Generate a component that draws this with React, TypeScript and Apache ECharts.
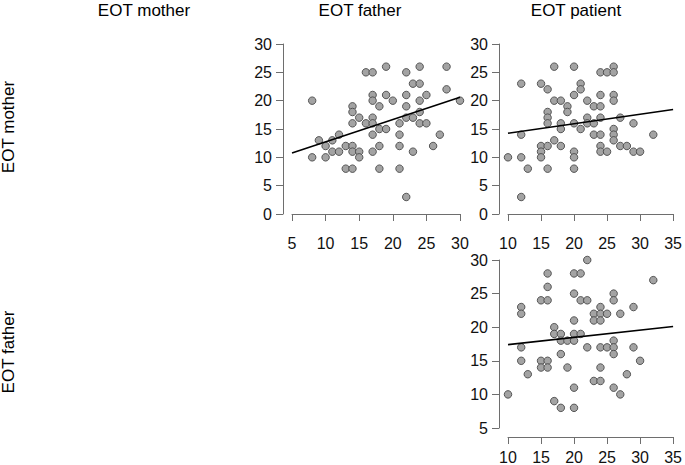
import React, { useEffect, useRef } from "react";
import * as echarts from "echarts";

// Panel 1: x = EOT father, y = EOT mother
const p1X = [8,8,9,10,10,11,11,12,12,13,13,14,14,14,14,14,14,15,15,15,16,16,17,17,17,17,17,17,17,18,18,18,18,19,19,19,20,21,21,21,21,22,22,22,22,22,23,23,23,24,24,24,24,24,25,25,26,27,28,28,30];
const p1Y = [20,10,13,12,10,13,11,14,11,12,8,19,18,16,12,11,8,17,11,10,25,16,25,21,20,17,16,14,11,19,15,12,8,26,21,15,20,16,14,12,8,25,21,19,17,3,23,17,11,26,23,20,18,16,21,16,12,14,26,22,20];

// Panel 2: x = EOT patient, y = EOT mother
const p2X = [10,12,12,12,12,13,15,15,15,15,16,16,16,16,16,16,17,17,17,18,18,18,18,19,19,20,20,20,20,20,20,21,21,21,22,22,22,23,23,23,24,24,24,24,24,24,24,25,25,26,26,26,26,26,26,26,27,27,28,29,29,30,32];
const p2Y = [10,23,14,10,3,8,23,12,11,10,22,18,17,16,12,8,26,20,13,20,16,15,12,19,18,26,21,16,11,10,8,23,22,15,20,17,16,19,16,14,25,21,19,17,14,12,11,25,11,26,25,21,20,15,14,13,17,12,12,16,11,11,14];

// Panel 3: x = EOT patient, y = EOT father
const p3X = [10,12,12,12,12,13,15,15,15,16,16,16,16,16,17,17,17,18,18,18,18,19,19,20,20,20,20,20,20,20,21,21,21,22,22,22,23,23,23,24,24,24,24,24,24,25,25,26,26,26,26,26,26,27,27,28,29,29,30,32];
const p3Y = [10,23,22,17,15,13,24,15,14,28,26,24,15,14,20,19,9,19,18,16,8,18,14,28,25,21,19,18,11,8,28,24,19,30,24,17,22,21,12,23,22,21,17,14,12,22,17,25,24,18,17,16,11,22,10,13,23,17,15,27];

const colLabels = ["EOT mother", "EOT father", "EOT patient"];
const rowLabels = ["EOT mother", "EOT father"];

const FONT = "'Liberation Sans', Arial, Helvetica, sans-serif";

function fit(xs: number[], ys: number[]) {
  const n = xs.length;
  const mx = xs.reduce((a, b) => a + b, 0) / n;
  const my = ys.reduce((a, b) => a + b, 0) / n;
  let sxy = 0, sxx = 0;
  for (let i = 0; i < n; i++) {
    sxy += (xs[i] - mx) * (ys[i] - my);
    sxx += (xs[i] - mx) * (xs[i] - mx);
  }
  const b = sxy / sxx;
  return { a: my - b * mx, b };
}

export default function App() {
  const ref = useRef<HTMLDivElement>(null);
  useEffect(() => {
    if (!ref.current) return;
    const chart = echarts.init(ref.current, null, { renderer: "svg" });

    const panels = [
      { xs: p1X, ys: p1Y, xmin: 5, xmax: 30, ymin: 0, ymax: 30, left: 292, top: 44 },
      { xs: p2X, ys: p2Y, xmin: 10, xmax: 35, ymin: 0, ymax: 30, left: 508, top: 44 },
      { xs: p3X, ys: p3Y, xmin: 10, xmax: 35, ymin: 5, ymax: 30, left: 508, top: 260 },
    ];

    const axisCommon = {
      type: "value" as const,
      interval: 5,
      offset: 9,
      splitLine: { show: false },
      axisLine: { show: true, lineStyle: { color: "#6e6e6e", width: 1 } },
      axisTick: { show: true, length: 7, lineStyle: { color: "#6e6e6e", width: 1 } },
    };

    const grids = panels.map((p) => ({ left: p.left, top: p.top, width: 168, height: 170 }));
    const xAxes = panels.map((p, i) => ({
      ...axisCommon,
      gridIndex: i,
      min: p.xmin,
      max: p.xmax,
      axisLabel: { color: "#111", fontSize: 16, fontFamily: FONT, margin: 12 },
    }));
    const yAxes = panels.map((p, i) => ({
      ...axisCommon,
      gridIndex: i,
      min: p.ymin,
      max: p.ymax,
      axisLabel: { color: "#111", fontSize: 16, fontFamily: FONT, margin: 11 },
    }));

    const series: any[] = [];
    panels.forEach((p, i) => {
      series.push({
        type: "scatter",
        xAxisIndex: i,
        yAxisIndex: i,
        clip: false,
        symbolSize: 7.5,
        itemStyle: { color: "#a3a3a3", borderColor: "#4a4a4a", borderWidth: 0.9, opacity: 1 },
        data: p.xs.map((x, k) => [x, p.ys[k]]),
      });
      const f = fit(p.xs, p.ys);
      series.push({
        type: "line",
        xAxisIndex: i,
        yAxisIndex: i,
        symbol: "none",
        clip: false,
        lineStyle: { color: "#000", width: 1.6 },
        data: [
          [p.xmin, f.a + f.b * p.xmin],
          [p.xmax, f.a + f.b * p.xmax],
        ],
        z: 3,
      });
    });

    const colX = [144, 360, 576];
    const rowY = [127, 352];
    const graphic: any[] = [];
    colLabels.forEach((t, i) => {
      graphic.push({
        type: "text",
        x: colX[i],
        y: 10,
        style: { text: t, fill: "#000", font: `17px ${FONT}`, textAlign: "center", textVerticalAlign: "middle" },
      });
    });
    rowLabels.forEach((t, i) => {
      graphic.push({
        type: "text",
        x: 8,
        y: rowY[i],
        rotation: Math.PI / 2,
        style: { text: t, fill: "#000", font: `17px ${FONT}`, textAlign: "center", textVerticalAlign: "middle" },
      });
    });

    chart.setOption({
      animation: false,
      backgroundColor: "#fff",
      grid: grids,
      xAxis: xAxes,
      yAxis: yAxes,
      series,
      graphic,
    });
    return () => chart.dispose();
  }, []);
  return (
    <div
      ref={ref}
      style={{ position: "fixed", left: 0, top: 0, width: 685, height: 465 }}
    />
  );
}
